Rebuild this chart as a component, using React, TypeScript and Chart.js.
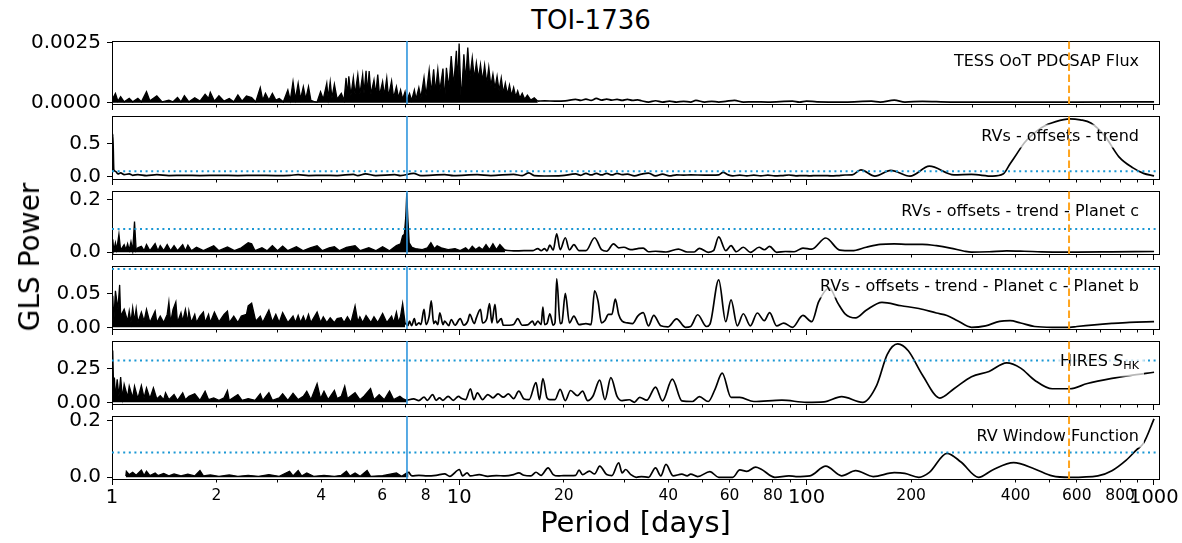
import React, { useEffect, useRef } from "react";
import { Chart, registerables } from "chart.js";

Chart.register(...registerables);

const FONT = '"DejaVu Sans", "Liberation Sans", Arial, sans-serif';

// ---------- axis / reference values ----------
const PERIOD_MIN = 1;
const PERIOD_MAX = 1035;
const xMajorTicks = [1, 10, 100, 1000];
const xMinorTicks = [2, 3, 4, 5, 6, 7, 8, 9, 20, 30, 40, 50, 60, 70, 80, 90, 200, 300, 400, 500, 600, 700, 800, 900];
const xLabelledMinorTicks = [2, 4, 6, 8, 20, 40, 60, 80, 200, 400, 600, 800];

const planetCPeriod = 7.07;
const planetBPeriod = 570;

// ---------- periodograms: [period (d), GLS power] ----------
const tessOotFlux: [number, number][] = [
  [1.005, 1.8e-4], [1.023, 3.9e-4], [1.04, 0.7e-4], [1.059, 2.5e-4], [1.084, 0.4e-4], [1.121, 1.8e-4], [1.147, 0.4e-4],
  [1.187, 1.8e-4], [1.215, 0.4e-4], [1.257, 4.6e-4], [1.286, 0.8e-4], [1.346, 2.9e-4], [1.394, 0.4e-4], [1.458, 1.1e-4],
  [1.499, 0.4e-4], [1.544, 2.2e-4], [1.58, 0.4e-4], [1.616, 2.9e-4], [1.665, 0.4e-4], [1.731, 2.1e-4], [1.792, 0.7e-4],
  [1.854, 3.5e-4], [1.897, 1.8e-4], [1.919, 4.3e-4], [1.972, 0.7e-4], [2.032, 2.9e-4], [2.102, 0.7e-4], [2.176, 1.8e-4],
  [2.242, 0.4e-4], [2.304, 3.2e-4], [2.368, 0.7e-4], [2.439, 2.8e-4], [2.524, 2.2e-4], [2.594, 0.4e-4], [2.673, 6.3e-4],
  [2.716, 1.1e-4], [2.766, 3.9e-4], [2.83, 1.1e-4], [2.896, 3.9e-4], [2.963, 1.1e-4], [3.031, 1.8e-4], [3.115, 0.4e-4],
  [3.209, 5.3e-4], [3.261, 1.0e-4], [3.321, 8.8e-4], [3.374, 1.5e-4], [3.436, 8.1e-4], [3.491, 1.5e-4], [3.556, 6.7e-4],
  [3.613, 1.5e-4], [3.68, 6.7e-4], [3.739, 1.0e-4], [3.808, 0.6e-4], [3.896, 0.3e-4], [3.986, 4.6e-4], [4.059, 1.5e-4],
  [4.154, 8.1e-4], [4.192, 2.0e-4], [4.25, 8.8e-4], [4.299, 2.0e-4], [4.369, 7.7e-4], [4.449, 1.5e-4], [4.574, 3.9e-4],
  [4.658, 1.0e-4], [4.721, 10.3e-4], [4.764, 3.0e-4], [4.808, 11.0e-4], [4.875, 3.0e-4], [4.954, 10.5e-4], [5.011, 3.5e-4],
  [5.103, 11.7e-4], [5.173, 3.5e-4], [5.269, 11.7e-4], [5.317, 4.0e-4], [5.39, 13.3e-4], [5.44, 4.0e-4], [5.502, 13.1e-4],
  [5.566, 3.5e-4], [5.681, 9.5e-4], [5.746, 3.5e-4], [5.825, 11.7e-4], [5.892, 3.0e-4], [6.015, 8.8e-4], [6.084, 3.0e-4],
  [6.183, 10.3e-4], [6.253, 2.5e-4], [6.384, 9.1e-4], [6.471, 2.0e-4], [6.592, 6.7e-4], [6.683, 2.0e-4], [6.776, 5.3e-4],
  [6.869, 1.5e-4], [6.981, 4.6e-4], [7.06, 1.0e-4], [7.191, 3.9e-4], [7.29, 1.0e-4], [7.425, 5.3e-4], [7.509, 1.5e-4],
  [7.649, 6.3e-4], [7.753, 2.0e-4], [7.916, 10.5e-4], [8.024, 3.0e-4], [8.191, 13.6e-4], [8.305, 4.0e-4], [8.438, 13.9e-4],
  [8.535, 4.5e-4], [8.674, 13.8e-4], [8.79, 5.0e-4], [8.975, 14.2e-4], [9.077, 1.0e-4], [9.183, 14.5e-4], [9.329, 6.0e-4],
  [9.48, 19.4e-4], [9.632, 7.0e-4], [9.809, 21.5e-4], [9.899, 8.0e-4], [9.99, 24.6e-4], [10.13, 0.5e-4], [10.31, 20.1e-4],
  [10.43, 9.0e-4], [10.58, 22.9e-4], [10.72, 10.0e-4], [10.9, 18.7e-4], [11.05, 10.0e-4], [11.2, 16.6e-4], [11.36, 10.0e-4],
  [11.51, 15.9e-4], [11.67, 9.0e-4], [11.83, 15.6e-4], [12.0, 8.0e-4], [12.16, 14.8e-4], [12.33, 7.0e-4], [12.5, 11.9e-4],
  [12.67, 6.0e-4], [12.85, 11.0e-4], [13.02, 5.0e-4], [13.21, 10.3e-4], [13.39, 4.0e-4], [13.57, 8.1e-4], [13.76, 3.5e-4],
  [13.95, 7.4e-4], [14.14, 3.0e-4], [14.34, 6.3e-4], [14.54, 2.5e-4], [14.73, 4.9e-4], [14.94, 2.0e-4], [15.18, 3.9e-4],
  [15.43, 1.5e-4], [15.71, 3.2e-4], [16.07, 1.1e-4], [16.44, 2.1e-4], [16.83, 0.7e-4], [17.61, 0.8e-4], [18.86, 0.7e-4],
  [20.2, 0.8e-4], [21.63, 1.4e-4], [22.38, 1.0e-4], [23.16, 1.5e-4], [23.97, 1.0e-4], [24.81, 1.8e-4], [25.68, 1.1e-4],
  [26.58, 1.5e-4], [27.5, 1.1e-4], [28.47, 1.4e-4], [29.44, 1.0e-4], [30.47, 1.4e-4], [31.54, 1.0e-4], [32.65, 1.2e-4],
  [33.47, 0.85e-4], [35.06, 0.3e-4], [36.74, 0.85e-4], [38.48, 0.3e-4], [40.31, 0.7e-4], [42.25, 0.3e-4], [44.26, 0.6e-4],
  [46.37, 0.3e-4], [48.02, 1.0e-4], [50.89, 0.3e-4], [53.34, 0.6e-4], [55.86, 0.3e-4], [58.53, 0.6e-4], [62.04, 1.0e-4],
  [65.8, 0.3e-4], [70.51, 0.4e-4], [77.37, 0.3e-4], [91.08, 0.7e-4], [95.4, 0.3e-4], [99.95, 0.7e-4], [107.2, 0.4e-4],
  [129.1, 0.3e-4], [153.8, 0.7e-4], [163.0, 0.3e-4], [178.9, 1.1e-4], [192.0, 0.3e-4], [215.6, 0.6e-4], [259.6, 0.3e-4],
  [376.9, 0.3e-4], [600.2, 0.3e-4], [1001.6, 0.4e-4],
];

const rvResidTrend: [number, number][] = [
  [1.0, 0.3], [1.005, 0.65], [1.012, 0.1], [1.023, 0.078], [1.04, 0.037], [1.059, 0.052], [1.084, 0.026], [1.121, 0.037],
  [1.147, 0.016], [1.187, 0.026], [1.257, 0.011], [1.346, 0.026], [1.458, 0.011], [1.616, 0.016], [1.792, 0.011],
  [2.032, 0.016], [2.304, 0.011], [2.594, 0.016], [2.963, 0.011], [3.261, 0.016], [3.436, 0.026], [3.68, 0.011],
  [4.059, 0.016], [4.449, 0.011], [4.954, 0.031], [5.103, 0.011], [5.37, 0.037], [5.746, 0.011], [6.52, 0.026],
  [6.776, 0.011], [7.39, 0.045], [7.753, 0.011], [9.077, 0.026], [9.632, 0.011], [11.26, 0.026], [12.33, 0.011],
  [14.34, 0.031], [15.18, 0.011], [15.85, 0.052], [16.44, 0.011], [17.61, 0.005], [19.75, 0.011], [21.63, 0.037],
  [22.38, 0.016], [23.16, 0.045], [23.97, 0.021], [24.81, 0.045], [25.68, 0.021], [26.58, 0.045], [27.5, 0.021],
  [28.47, 0.045], [29.44, 0.026], [30.5, 0.034], [31.94, 0.007], [33.47, 0.034], [35.06, 0.05], [36.74, 0.007],
  [38.48, 0.034], [40.31, 0.007], [42.25, 0.023], [44.26, 0.018], [46.37, 0.023], [50.89, 0.018], [53.34, 0.018],
  [55.86, 0.023], [57.5, 0.06], [59.5, 0.023], [61.32, 0.007], [64.24, 0.018], [67.3, 0.007], [70.51, 0.018],
  [73.86, 0.007], [77.37, 0.018], [81.06, 0.007], [84.94, 0.012], [88.98, 0.02], [93.22, 0.007], [97.65, 0.012],
  [102.3, 0.007], [107.2, 0.012], [112.3, 0.012], [117.7, 0.007], [123.2, 0.012], [129.1, 0.02], [135.3, 0.023],
  [143.4, 0.098], [157.4, 0.003], [174.8, 0.092], [198.6, 0.002], [225.8, 0.155], [265.8, 0.023], [298.5, 0.029],
  [343.4, 0.003], [368.1, 0.034], [385.7, 0.193], [404.0, 0.352], [423.4, 0.511], [448.7, 0.643], [475.6, 0.749],
  [521.9, 0.839], [573.0, 0.882], [614.3, 0.866], [658.7, 0.818], [723.1, 0.617], [793.6, 0.299], [871.2, 0.129],
  [934.2, 0.045], [1001.6, 0.007],
];

const rvResidPlanetC: [number, number][] = [
  [1.005, 0.049], [1.012, 0.006], [1.023, 0.036], [1.032, 0.01], [1.047, 0.068], [1.059, 0.008], [1.084, 0.029],
  [1.097, 0.01], [1.109, 0.032], [1.121, 0.008], [1.134, 0.04], [1.147, 0.006], [1.161, 0.116], [1.174, 0.006],
  [1.187, 0.017], [1.215, 0.023], [1.237, 0.006], [1.257, 0.029], [1.286, 0.006], [1.331, 0.033], [1.356, 0.006],
  [1.377, 0.025], [1.409, 0.006], [1.442, 0.029], [1.475, 0.006], [1.509, 0.025], [1.544, 0.006], [1.598, 0.029],
  [1.627, 0.006], [1.654, 0.027], [1.692, 0.006], [1.751, 0.019], [1.833, 0.006], [1.963, 0.025], [2.032, 0.006],
  [2.15, 0.02], [2.252, 0.006], [2.357, 0.017], [2.467, 0.036], [2.524, 0.032], [2.582, 0.006], [2.703, 0.017],
  [2.798, 0.006], [2.896, 0.025], [2.996, 0.006], [3.1, 0.023], [3.209, 0.006], [3.396, 0.021], [3.556, 0.006],
  [3.722, 0.017], [3.896, 0.025], [4.033, 0.006], [4.221, 0.017], [4.369, 0.021], [4.521, 0.006], [4.732, 0.019],
  [5.011, 0.025], [5.184, 0.006], [5.49, 0.017], [5.746, 0.006], [6.015, 0.021], [6.297, 0.006], [6.592, 0.025],
  [6.776, 0.032], [6.869, 0.062], [6.948, 0.068], [7.012, 0.132], [7.06, 0.224], [7.109, 0.132], [7.174, 0.036],
  [7.306, 0.019], [7.475, 0.014], [7.825, 0.01], [8.098, 0.017], [8.285, 0.036], [8.477, 0.014], [8.634, 0.025],
  [8.872, 0.017], [9.287, 0.01], [9.72, 0.014], [10.06, 0.006], [10.43, 0.017], [10.65, 0.006], [10.9, 0.023],
  [11.15, 0.01], [11.41, 0.02], [11.67, 0.01], [11.94, 0.029], [12.22, 0.01], [12.5, 0.032], [12.79, 0.01],
  [13.09, 0.029], [13.54, 0.008], [14.34, 0.005], [15.36, 0.006], [16.26, 0.006], [16.83, 0.014], [17.21, 0.006],
  [17.61, 0.014], [17.89, 0.005], [18.23, 0.027], [18.64, 0.008], [19.08, 0.07], [19.52, 0.01], [20.2, 0.055],
  [20.76, 0.009], [21.38, 0.029], [22.13, 0.006], [23.16, 0.006], [24.53, 0.055], [25.68, 0.01], [26.58, 0.004],
  [27.81, 0.032], [28.78, 0.017], [29.79, 0.019], [31.18, 0.01], [32.65, 0.014], [33.86, 0.016], [35.06, 0.002],
  [36.74, 0.004], [39.38, 0.001], [42.74, 0.012], [45.31, 0.001], [47.46, 0.001], [49.14, 0.015], [52.11, 0.0],
  [53.95, 0.006], [55.86, 0.058], [58.53, 0.006], [60.61, 0.025], [62.77, 0.002], [65.76, 0.019], [68.89, 0.0],
  [72.99, 0.019], [75.58, 0.0095], [78.29, 0.022], [82.01, 0.0], [86.93, 0.003], [92.13, 0.002], [97.65, 0.016],
  [103.5, 0.012], [113.6, 0.054], [124.7, 0.008], [135.3, 0.006], [148.5, 0.019], [163.0, 0.03], [178.9, 0.032],
  [196.3, 0.03], [215.6, 0.03], [236.6, 0.025], [259.6, 0.016], [285.0, 0.004], [298.5, 0.0005], [335.4, 0.002],
  [376.9, 0.0056], [423.4, 0.004], [475.6, 0.0016], [546.9, 0.0005], [600.2, 0.0005], [757.5, 0.0016], [1001.6, 0.003],
];

const rvResidPlanetCB: [number, number][] = [
  [1.005, 0.0465], [1.012, 0.008], [1.023, 0.054], [1.04, 0.0265], [1.052, 0.0626], [1.059, 0.0165], [1.084, 0.0265],
  [1.109, 0.009], [1.121, 0.024], [1.134, 0.007], [1.147, 0.029], [1.161, 0.009], [1.174, 0.0275], [1.187, 0.007],
  [1.215, 0.0225], [1.237, 0.009], [1.257, 0.0265], [1.286, 0.007], [1.331, 0.024], [1.346, 0.007], [1.377, 0.0165],
  [1.409, 0.007], [1.442, 0.019], [1.458, 0.0375], [1.475, 0.007], [1.499, 0.0265], [1.527, 0.0375], [1.544, 0.007],
  [1.58, 0.0215], [1.598, 0.009], [1.627, 0.0265], [1.654, 0.007], [1.665, 0.024], [1.692, 0.007], [1.731, 0.019],
  [1.751, 0.007], [1.792, 0.0165], [1.833, 0.0225], [1.854, 0.007], [1.897, 0.019], [1.919, 0.007], [1.972, 0.0225],
  [2.032, 0.008], [2.102, 0.019], [2.15, 0.024], [2.176, 0.007], [2.242, 0.0165], [2.304, 0.007], [2.357, 0.0165],
  [2.439, 0.019], [2.467, 0.0315], [2.524, 0.0355], [2.594, 0.009], [2.673, 0.0165], [2.716, 0.007], [2.83, 0.0255],
  [2.896, 0.008], [2.963, 0.019], [3.031, 0.007], [3.1, 0.0215], [3.209, 0.007], [3.321, 0.0165], [3.374, 0.007],
  [3.436, 0.0175], [3.491, 0.007], [3.556, 0.0165], [3.613, 0.007], [3.68, 0.019], [3.739, 0.007], [3.896, 0.0225],
  [3.986, 0.007], [4.059, 0.0155], [4.154, 0.007], [4.25, 0.014], [4.369, 0.007], [4.449, 0.0127], [4.574, 0.014],
  [4.658, 0.007], [4.764, 0.0155], [4.875, 0.007], [5.011, 0.0315], [5.103, 0.008], [5.173, 0.0155], [5.269, 0.007],
  [5.39, 0.0175], [5.566, 0.007], [5.681, 0.0155], [5.825, 0.007], [6.015, 0.0205], [6.183, 0.007], [6.384, 0.0165],
  [6.471, 0.007], [6.592, 0.0225], [6.683, 0.007], [6.776, 0.0165], [6.869, 0.035], [6.981, 0.0065], [7.109, 0.0025],
  [7.191, 0.009], [7.29, 0.0025], [7.425, 0.0127], [7.509, 0.003], [7.649, 0.0065], [7.753, 0.004], [7.916, 0.0265],
  [8.024, 0.004], [8.191, 0.0165], [8.305, 0.039], [8.438, 0.0055], [8.535, 0.009], [8.674, 0.004], [8.79, 0.0215],
  [8.975, 0.004], [9.077, 0.009], [9.329, 0.0025], [9.48, 0.0115], [9.72, 0.003], [10.06, 0.0127], [10.31, 0.003],
  [10.58, 0.009], [10.72, 0.019], [11.05, 0.0055], [11.2, 0.014], [11.51, 0.0265], [11.67, 0.0065], [12.0, 0.0127],
  [12.22, 0.035], [12.41, 0.0065], [12.67, 0.034], [12.85, 0.0065], [13.21, 0.0127], [13.39, 0.003], [13.95, 0.003],
  [14.34, 0.004], [14.73, 0.0127], [15.18, 0.003], [15.71, 0.0035], [16.26, 0.009], [16.5, 0.003], [16.83, 0.009],
  [17.21, 0.004], [17.41, 0.03], [17.61, 0.004], [17.89, 0.0055], [18.23, 0.02], [18.64, 0.003], [18.86, 0.0065],
  [19.08, 0.0716], [19.52, 0.0055], [19.74, 0.0065], [20.2, 0.05], [20.76, 0.0065], [21.38, 0.0165], [22.13, 0.004],
  [23.16, 0.0055], [23.97, 0.004], [24.53, 0.054], [25.09, 0.039], [25.68, 0.0065], [26.27, 0.01], [26.88, 0.019],
  [27.5, 0.019], [28.14, 0.0415], [28.78, 0.019], [29.44, 0.009], [30.47, 0.0065], [31.54, 0.0055], [32.65, 0.0165],
  [33.86, 0.0216], [35.06, 0.0022], [36.31, 0.0175], [38.04, 0.0022], [39.86, 0.0006], [42.25, 0.0124], [44.77, 0.0],
  [46.37, 0.0012], [48.58, 0.0185], [51.5, 0.0012], [52.71, 0.0047], [55.86, 0.07], [58.53, 0.0083], [60.61, 0.0404],
  [63.19, 0.0022], [65.76, 0.02], [68.89, 0.0022], [72.15, 0.0211], [75.58, 0.0098], [78.29, 0.0216], [82.01, 0.0022],
  [85.94, 0.0063], [91.08, 0.0], [97.65, 0.0175], [103.5, 0.0083], [108.4, 0.0379], [116.3, 0.058], [123.2, 0.0353],
  [129.1, 0.02], [138.5, 0.0139], [148.5, 0.0251], [164.9, 0.0368], [187.4, 0.0318], [210.6, 0.0277], [236.6, 0.0211],
  [253.7, 0.0175], [272.1, 0.0098], [298.5, 0.0], [327.6, 0.0022], [359.7, 0.0088], [385.7, 0.0098], [413.6, 0.0063],
  [453.9, 0.0012], [510.0, 0.0], [573.0, 0.0], [600.2, 0.0012], [674.3, 0.0037], [757.5, 0.0057], [851.1, 0.0073],
  [1001.6, 0.0083],
];

const hiresSHK: [number, number][] = [
  [1.005, 0.386], [1.012, 0.045], [1.016, 0.184], [1.023, 0.033], [1.035, 0.172], [1.047, 0.045], [1.059, 0.189],
  [1.071, 0.033], [1.084, 0.134], [1.109, 0.038], [1.121, 0.121], [1.147, 0.033], [1.161, 0.121], [1.187, 0.028],
  [1.215, 0.126], [1.237, 0.033], [1.257, 0.108], [1.286, 0.028], [1.316, 0.108], [1.346, 0.025], [1.377, 0.05],
  [1.409, 0.02], [1.426, 0.071], [1.458, 0.02], [1.509, 0.058], [1.544, 0.015], [1.598, 0.071], [1.627, 0.02],
  [1.665, 0.045], [1.731, 0.063], [1.792, 0.015], [1.854, 0.083], [1.897, 0.02], [1.963, 0.033], [2.032, 0.015],
  [2.102, 0.033], [2.15, 0.088], [2.176, 0.015], [2.304, 0.058], [2.368, 0.015], [2.467, 0.028], [2.582, 0.015],
  [2.673, 0.063], [2.716, 0.015], [2.83, 0.071], [2.896, 0.015], [3.031, 0.033], [3.1, 0.063], [3.209, 0.015],
  [3.321, 0.068], [3.436, 0.02], [3.556, 0.045], [3.638, 0.083], [3.739, 0.02], [3.896, 0.139], [3.986, 0.028],
  [4.078, 0.083], [4.192, 0.02], [4.369, 0.088], [4.449, 0.028], [4.574, 0.045], [4.679, 0.121], [4.764, 0.028],
  [5.011, 0.071], [5.173, 0.02], [5.317, 0.045], [5.553, 0.103], [5.681, 0.02], [5.88, 0.058], [6.084, 0.02],
  [6.297, 0.083], [6.471, 0.02], [6.745, 0.045], [6.9, 0.025], [7.06, 0.015], [7.39, 0.025], [7.649, 0.0125],
  [7.916, 0.038], [8.098, 0.015], [8.38, 0.058], [8.574, 0.015], [8.77, 0.033], [8.975, 0.015], [9.287, 0.045],
  [9.61, 0.015], [9.945, 0.045], [10.17, 0.028], [10.43, 0.02], [10.77, 0.101], [11.02, 0.02], [11.28, 0.071],
  [11.67, 0.02], [12.08, 0.058], [12.5, 0.033], [12.93, 0.063], [13.39, 0.038], [13.85, 0.063], [14.34, 0.028],
  [14.84, 0.083], [15.36, 0.025], [15.89, 0.02], [16.63, 0.147], [17.02, 0.02], [17.41, 0.177], [17.89, 0.033],
  [18.23, 0.02], [18.86, 0.02], [19.52, 0.096], [20.2, 0.0125], [20.91, 0.088], [21.88, 0.05], [22.64, 0.083],
  [23.43, 0.0125], [24.25, 0.045], [25.38, 0.165], [26.27, 0.02], [27.32, 0.184], [28.47, 0.045], [29.44, 0.0125],
  [30.86, 0.019], [31.94, 0.0], [33.08, 0.037], [34.66, 0.016], [36.74, 0.114], [38.48, 0.011], [41.07, 0.173],
  [43.74, 0.011], [46.91, 0.006], [49.14, 0.042], [52.11, 0.006], [54.58, 0.101], [57.18, 0.217], [60.61, 0.037],
  [64.24, 0.037], [70.51, 0.006], [84.94, 0.016], [99.95, 0.0], [112.3, 0.003], [126.2, 0.042], [145.1, 0.0],
  [159.2, 0.127], [170.8, 0.358], [183.1, 0.435], [196.3, 0.384], [215.6, 0.204], [242.1, 0.032], [265.8, 0.101],
  [298.5, 0.191], [335.4, 0.23], [376.9, 0.294], [413.6, 0.255], [453.9, 0.165], [510.0, 0.101], [573.0, 0.101],
  [643.6, 0.14], [757.5, 0.178], [851.1, 0.199], [1001.6, 0.224],
];

const rvWindowFunction: [number, number][] = [
  [1.096, 0.004], [1.1, 0.021], [1.121, 0.0095], [1.147, 0.0178], [1.174, 0.007], [1.215, 0.025], [1.237, 0.006],
  [1.257, 0.0214], [1.286, 0.006], [1.331, 0.0154], [1.356, 0.006], [1.409, 0.0131], [1.458, 0.0047], [1.509, 0.0119],
  [1.58, 0.0047], [1.654, 0.011], [1.731, 0.0047], [1.792, 0.0238], [1.833, 0.0047], [1.919, 0.008], [2.032, 0.0035],
  [2.176, 0.008], [2.304, 0.0035], [2.467, 0.007], [2.642, 0.0035], [2.83, 0.0095], [3.031, 0.0035], [3.245, 0.0214],
  [3.321, 0.0047], [3.436, 0.0238], [3.516, 0.0047], [3.638, 0.0154], [3.808, 0.0035], [4.078, 0.007], [4.369, 0.0035],
  [4.574, 0.007], [4.732, 0.0214], [4.842, 0.0047], [5.011, 0.0154], [5.184, 0.0035], [5.428, 0.0238], [5.553, 0.0035],
  [6.015, 0.006], [6.592, 0.0154], [6.823, 0.0035], [7.142, 0.019], [7.306, 0.0047], [7.649, 0.007], [8.098, 0.0047],
  [8.574, 0.007], [9.077, 0.0119], [9.394, 0.0035], [10.01, 0.0274], [10.22, 0.0047], [10.53, 0.0154], [10.77, 0.0047],
  [11.41, 0.0095], [12.08, 0.0035], [12.79, 0.006], [13.54, 0.0047], [14.34, 0.0095], [14.84, 0.0154], [15.36, 0.007],
  [16.07, 0.0047], [16.63, 0.0178], [17.21, 0.007], [18.02, 0.0333], [18.64, 0.0095], [19.29, 0.0047], [19.97, 0.006],
  [20.91, 0.006], [21.63, 0.007], [22.13, 0.025], [22.64, 0.0095], [23.7, 0.0214], [24.53, 0.0119], [25.38, 0.0393],
  [26.58, 0.0095], [27.5, 0.006], [28.78, 0.0512], [29.44, 0.0154], [30.13, 0.0274], [31.18, 0.0095], [32.32, 0.0],
  [33.47, 0.0027], [35.06, 0.0], [36.74, 0.0331], [38.04, 0.0052], [39.38, 0.0452], [41.27, 0.0052], [43.74, 0.0112],
  [45.31, 0.0052], [46.37, 0.0112], [48.58, 0.0027], [52.71, 0.0197], [55.86, 0.0], [61.32, 0.0], [64.24, 0.0258],
  [67.3, 0.021], [71.32, 0.0355], [73.86, 0.0294], [81.06, 0.0], [88.98, 0.0052], [93.22, 0.0027], [102.3, 0.0052],
  [113.6, 0.0392], [126.2, 0.0052], [138.5, 0.0234], [155.6, 0.0027], [178.9, 0.0161], [191.8, 0.0137], [210.6, 0.0],
  [225.8, 0.0173], [253.7, 0.084], [278.4, 0.0537], [312.7, 0.0], [343.4, 0.0258], [394.8, 0.0513], [453.9, 0.0294],
  [510.0, 0.0052], [573.0, 0.0], [690.2, 0.0052], [757.5, 0.0234], [831.4, 0.0597], [891.8, 0.0963], [934.2, 0.12],
  [1001.6, 0.2055],
];

const panelSeries = [tessOotFlux, rvResidTrend, rvResidPlanetC, rvResidPlanetCB, hiresSHK, rvWindowFunction];
// periods below which the periodogram is an unresolved dense band (drawn filled)
const panelDenseUntil = [17, 0, 13.6, 7.0, 7.07, 7.2];
const panelYRange: [number, number][] = [
  [-0.00005, 0.00256], [-0.041, 0.925], [-0.0065, 0.232], [-0.0025, 0.0905], [-0.0125, 0.457], [-0.006, 0.2156],
];
const panelYTicks = [[0, 0.0025], [0, 0.5], [0, 0.2], [0, 0.05], [0, 0.25], [0, 0.2]];
const panelYTickLabels = [["0.0000", "0.0025"], ["0.0", "0.5"], ["0.0", "0.2"], ["0.00", "0.05"], ["0.00", "0.25"], ["0.0", "0.2"]];
const panelFap: (number | null)[] = [null, 0.079, 0.0886, 0.086, 0.311, 0.0869];

type TextPart = { t: string; italic?: boolean; sub?: boolean };
const panelLabels: TextPart[][] = [
  [{ t: "TESS OoT PDCSAP Flux" }],
  [{ t: "RVs - offsets - trend" }],
  [{ t: "RVs - offsets - trend - Planet c" }],
  [{ t: "RVs - offsets - trend - Planet c - Planet b" }],
  [{ t: "HIRES " }, { t: "S", italic: true }, { t: "HK", sub: true }],
  [{ t: "RV Window Function" }],
];

const figureTitle = "TOI-1736";
const xAxisTitle = "Period [days]";
const yAxisTitle = "GLS Power";

// ---------- layout (pixels) ----------
const FIG_W = 1182;
const FIG_H = 543;
const PLOT_LEFT = 112;
const PLOT_RIGHT = 1159;
const PANEL_TOP0 = 41;
const PANEL_STEP = 75;
const PANEL_H = 63;
const PAD = 24;
const BOTTOM_PAD = 48;
const XLABEL_AREA = 44;

const BLUE_LINE = "#2f96de";
const FAP_COLOR = "#1b98d4";
const ORANGE_LINE = "#ffa51f";

function Panel({ index }: { index: number }) {
  const ref = useRef<HTMLCanvasElement>(null);
  const isBottom = index === panelSeries.length - 1;
  const top = PANEL_TOP0 + PANEL_STEP * index - PAD;
  const height = PAD + PANEL_H + (isBottom ? BOTTOM_PAD : PAD);

  useEffect(() => {
    const canvas = ref.current;
    if (!canvas) return;
    const [ymin, ymax] = panelYRange[index];
    const series = panelSeries[index];
    const cut = panelDenseUntil[index];
    const densePart = series.filter(([p]) => p <= cut);
    const lastDense = densePart.length ? densePart[densePart.length - 1][0] : 0;
    const linePart = series.filter(([p]) => p >= lastDense);

    const datasets: any[] = [];
    if (densePart.length) {
      datasets.push({
        label: "periodogram-dense",
        data: densePart.map(([x, y]) => ({ x, y })),
        borderColor: "#000",
        backgroundColor: "#000",
        fill: "origin",
        borderWidth: 1.3,
        pointRadius: 0,
        tension: 0,
        borderJoinStyle: "miter",
        order: 4,
      });
    }
    datasets.push({
      label: "periodogram",
      data: linePart.map(([x, y]) => ({ x, y })),
      borderColor: "#000",
      borderWidth: 1.7,
      pointRadius: 0,
      fill: false,
      cubicInterpolationMode: "monotone",
      order: 3,
    });
    const fap = panelFap[index];
    if (fap !== null) {
      datasets.push({
        label: "fap",
        data: [{ x: PERIOD_MIN, y: fap }, { x: PERIOD_MAX, y: fap }],
        borderColor: FAP_COLOR,
        borderWidth: 2,
        borderDash: [2, 3.6],
        pointRadius: 0,
        fill: false,
        order: 2,
      });
    }
    datasets.push({
      label: "planet c",
      data: [{ x: planetCPeriod, y: ymin }, { x: planetCPeriod, y: ymax }],
      borderColor: BLUE_LINE,
      borderWidth: 1.6,
      pointRadius: 0,
      fill: false,
      order: 1,
    });
    datasets.push({
      label: "planet b",
      data: [{ x: planetBPeriod, y: ymin }, { x: planetBPeriod, y: ymax }],
      borderColor: ORANGE_LINE,
      borderWidth: 2,
      borderDash: [7.5, 3.5],
      pointRadius: 0,
      fill: false,
      order: 0,
    });

    const labelPlugin = {
      id: "panelLabel",
      beforeDatasetDraw(chart: any, args: any) {
        const ds = chart.data.datasets[args.index];
        if (!ds || ds.label !== "planet b") return;
        const { ctx, chartArea } = chart;
        const parts = panelLabels[index];
        const size = 16;
        const fontFor = (p: TextPart) =>
          `${p.italic ? "oblique " : ""}${p.sub ? size * 0.7 : size}px ${FONT}`;
        ctx.save();
        let total = 0;
        const widths = parts.map((p) => {
          ctx.font = fontFor(p);
          const w = ctx.measureText(p.t).width;
          total += w;
          return w;
        });
        const right = chartArea.right - 20;
        const cy = chartArea.top + 20.5;
        const left = right - total;
        const hasSub = parts.some((p) => p.sub);
        ctx.fillStyle = "rgba(255,255,255,0.72)";
        ctx.fillRect(left - 5, cy - 12, total + 10, hasSub ? 27 : 23);
        ctx.fillStyle = "#000";
        ctx.textBaseline = "middle";
        ctx.textAlign = "left";
        let x = left;
        parts.forEach((p, k) => {
          ctx.font = fontFor(p);
          ctx.fillText(p.t, x, p.sub ? cy + 4.5 : cy);
          x += widths[k];
        });
        ctx.restore();
      },
    };

    const zeroPad = (s: any) => {
      s.paddingLeft = 0;
      s.paddingRight = 0;
      s.paddingTop = 0;
      s.paddingBottom = 0;
    };

    const chart = new Chart(canvas, {
      type: "line",
      data: { datasets },
      options: {
        animation: false,
        responsive: false,
        devicePixelRatio: 1,
        events: [],
        layout: {
          padding: {
            left: 0,
            right: FIG_W - PLOT_RIGHT,
            top: PAD,
            bottom: isBottom ? BOTTOM_PAD - XLABEL_AREA : PAD,
          },
        },
        plugins: { legend: { display: false }, tooltip: { enabled: false }, title: { display: false } },
        scales: {
          xMajor: {
            type: "logarithmic",
            position: "bottom",
            weight: -1,
            min: PERIOD_MIN,
            max: PERIOD_MAX,
            afterBuildTicks: (s: any) => {
              s.ticks = xMajorTicks.map((v) => ({ value: v }));
            },
            afterFit: (s: any) => {
              s.height = 0;
              zeroPad(s);
            },
            ticks: { display: false },
            grid: { display: true, drawOnChartArea: false, drawTicks: true, tickLength: 6, tickColor: "#000", tickWidth: 1 },
            border: { display: false },
          },
          x: {
            type: "logarithmic",
            position: "bottom",
            weight: 0,
            min: PERIOD_MIN,
            max: PERIOD_MAX,
            afterBuildTicks: (s: any) => {
              s.ticks = [...xMajorTicks, ...xMinorTicks].sort((a, b) => a - b).map((v) => ({ value: v }));
            },
            afterFit: (s: any) => {
              s.height = isBottom ? XLABEL_AREA : 0;
              zeroPad(s);
            },
            ticks: {
              display: isBottom,
              autoSkip: false,
              maxRotation: 0,
              minRotation: 0,
              padding: 4,
              color: "#000",
              font: (c: any) => ({
                family: FONT,
                size: c.tick && xMajorTicks.includes(c.tick.value) ? 19.5 : 15.5,
              }),
              callback: (v: any) =>
                xMajorTicks.includes(v) || xLabelledMinorTicks.includes(v) ? String(v) : "",
            },
            grid: { display: true, drawOnChartArea: false, drawTicks: true, tickLength: 3.5, tickColor: "#000", tickWidth: 1 },
            border: { display: true, color: "#000", width: 1 },
          },
          xTop: {
            type: "linear",
            position: "top",
            min: 0,
            max: 1,
            afterFit: (s: any) => {
              s.height = 0;
              zeroPad(s);
            },
            ticks: { display: false },
            grid: { display: false },
            border: { display: true, color: "#000", width: 1 },
          },
          y: {
            type: "linear",
            position: "left",
            min: ymin,
            max: ymax,
            afterBuildTicks: (s: any) => {
              s.ticks = panelYTicks[index].map((v) => ({ value: v }));
            },
            afterFit: (s: any) => {
              s.width = PLOT_LEFT;
              zeroPad(s);
            },
            ticks: {
              padding: 6,
              color: "#000",
              font: { family: FONT, size: 20 },
              autoSkip: false,
              callback: (v: any) => {
                const k = panelYTicks[index].indexOf(v);
                return k >= 0 ? panelYTickLabels[index][k] : "";
              },
            },
            grid: { display: true, drawOnChartArea: false, drawTicks: true, tickLength: 5, tickColor: "#000", tickWidth: 1 },
            border: { display: true, color: "#000", width: 1 },
          },
          yRight: {
            type: "linear",
            position: "right",
            min: 0,
            max: 1,
            afterFit: (s: any) => {
              s.width = 0;
              zeroPad(s);
            },
            ticks: { display: false },
            grid: { display: false },
            border: { display: true, color: "#000", width: 1 },
          },
        },
      } as any,
      plugins: [labelPlugin],
    });
    return () => chart.destroy();
  }, [index, isBottom]);

  return (
    <canvas
      ref={ref}
      width={FIG_W}
      height={height}
      style={{ position: "absolute", left: 0, top, width: FIG_W, height, display: "block" }}
    />
  );
}

export default function App() {
  const plotCenterX = (PLOT_LEFT + PLOT_RIGHT) / 2;
  return (
    <div
      style={{
        position: "absolute",
        left: 0,
        top: 0,
        width: FIG_W,
        height: FIG_H,
        background: "#fff",
        overflow: "hidden",
        fontFamily: FONT,
        color: "#000",
      }}
    >
      <div
        style={{
          position: "absolute",
          left: 0,
          top: 5,
          width: FIG_W,
          textAlign: "center",
          fontSize: 26,
          lineHeight: "30px",
        }}
      >
        {figureTitle}
      </div>
      {panelSeries.map((_, i) => (
        <Panel key={i} index={i} />
      ))}
      <div
        style={{
          position: "absolute",
          left: 30,
          top: 257,
          transform: "translate(-50%, -50%) rotate(-90deg)",
          fontSize: 28,
          lineHeight: 1,
          whiteSpace: "nowrap",
        }}
      >
        {yAxisTitle}
      </div>
      <div
        style={{
          position: "absolute",
          left: plotCenterX,
          top: 522,
          transform: "translate(-50%, -50%)",
          fontSize: 29,
          lineHeight: 1,
          whiteSpace: "nowrap",
        }}
      >
        {xAxisTitle}
      </div>
    </div>
  );
}
